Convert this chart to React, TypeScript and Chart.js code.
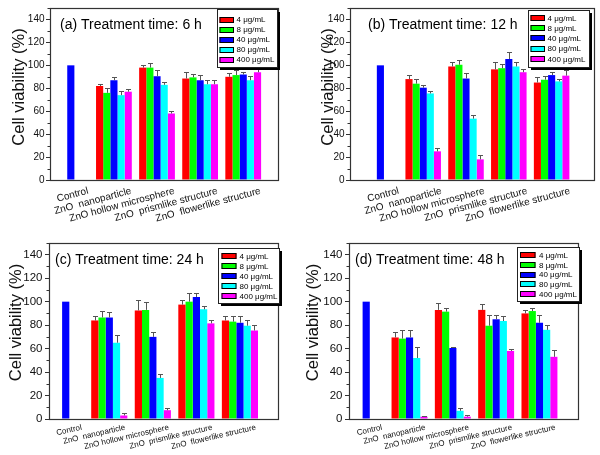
import React, { useEffect, useRef } from "react";
import { Chart, registerables } from "chart.js";

Chart.register(...registerables);

const FONT = "'Liberation Sans', Arial, Helvetica, sans-serif";

// ---------------- data ----------------
const categories = [
  "Control",
  "ZnO  nanoparticle",
  "ZnO hollow microsphere",
  "ZnO  prismlike structure",
  "ZnO  flowerlike structure",
];
const concentrations = ["4 μg/mL", "8 μg/mL", "40 μg/mL", "80 μg/mL", "400 μg/mL"];
const barColors = ["#ff0000", "#00ff00", "#0000ff", "#00ffff", "#ff00ff"];
const yTicks = [0, 20, 40, 60, 80, 100, 120, 140];
const controlValue = 100;
const panelTitles = [
  "(a) Treatment time: 6 h",
  "(b) Treatment time: 12 h",
  "(c) Treatment time: 24 h",
  "(d) Treatment time: 48 h",
];

// rows = concentrations (4, 8, 40, 80, 400 μg/mL)
// cols = nanoparticle, hollow microsphere, prismlike, flowerlike
const viability6h = [
  [82, 98, 88.5, 90],
  [76, 98, 89.5, 91.5],
  [87, 90.5, 87, 92],
  [74, 83, 83.5, 87],
  [77, 58, 83.5, 94],
];
const error6h = [
  [2, 2.5, 6, 3.5],
  [4, 4, 3, 4.5],
  [3, 5, 4.5, 2.5],
  [4, 2.5, 4, 3.5],
  [2, 2, 4, 3],
];
const viability12h = [
  [88, 99, 96.5, 85],
  [84, 100.5, 97.5, 87.5],
  [80.5, 88.5, 105.5, 91.5],
  [75.5, 53.5, 99, 86],
  [25, 18, 94, 91],
];
const error12h = [
  [3.5, 4, 6, 4.5],
  [4, 4.5, 4, 3],
  [2.5, 4.5, 6.5, 3],
  [2.5, 3.5, 4, 2.5],
  [2.5, 3.5, 2.5, 4.5],
];
const viability24h = [
  [84, 92.5, 97.5, 84],
  [86.5, 93, 100, 83],
  [86.5, 70, 104, 82],
  [65, 35, 93.5, 79.5],
  [3, 7.5, 81.5, 75.5],
];
const error24h = [
  [4, 8.5, 4, 4],
  [5.5, 7, 7.5, 4.5],
  [5, 4.5, 3.5, 6],
  [7, 3.5, 3, 4.5],
  [2, 2, 2.5, 5],
];
const viability48h = [
  [69.5, 93, 93, 90],
  [68.5, 91.5, 79.5, 92],
  [69.5, 60.5, 85, 82],
  [52, 7, 83.5, 76],
  [2, 2, 58, 53],
];
const error48h = [
  [5, 5.5, 5, 3],
  [7.5, 3, 9.5, 2.5],
  [6.5, 1, 3.5, 7],
  [9.5, 2.5, 4.5, 4],
  [0.5, 1, 1.5, 6],
];

const panelValues = [viability6h, viability12h, viability24h, viability48h];
const panelErrors = [error6h, error12h, error24h, error48h];

// ---------------- layout (positions / sizes / styles) ----------------
type Legend = { x: number; y: number; w: number; h: number; row0: number; rowH: number; swX: number; swW: number; textX: number };
type Layout = {
  left: number; top: number; w: number; h: number;
  l: number; r: number; t: number; b: number;
  xMin: number; xMax: number;
  tickFont: number; tickPad: number;
  labelFont: number; labelAngle: number; labelDx: number; labelDy: number;
  yTitleX: number; yTitleY: number;
  titleX: number; titleY: number;
  legend: Legend;
};

const layouts: Layout[] = [
  {
    left: 0, top: 0, w: 300, h: 225, l: 50, r: 278, t: 8, b: 180,
    xMin: -0.483, xMax: 4.807, tickFont: 10, tickPad: 1.5,
    labelFont: 10, labelAngle: 15, labelDx: 16, labelDy: 6,
    yTitleX: 19, yTitleY: 87, titleX: 60, titleY: 25,
    legend: { x: 217, y: 9, w: 60, h: 58, row0: 10.5, rowH: 10, swX: 2.5, swW: 14.5, textX: 19.5 },
  },
  {
    left: 300, top: 0, w: 300, h: 225, l: 50, r: 294, t: 8, b: 180,
    xMin: -0.71, xMax: 4.99, tickFont: 10, tickPad: 1.5,
    labelFont: 10, labelAngle: 15, labelDx: 17, labelDy: 6,
    yTitleX: 28, yTitleY: 87, titleX: 68, titleY: 25,
    legend: { x: 228, y: 10, w: 61, h: 57, row0: 8, rowH: 10.2, swX: 2.5, swW: 14.5, textX: 19.5 },
  },
  {
    left: 0, top: 225, w: 300, h: 230, l: 49, r: 278, t: 18, b: 194,
    xMin: -0.384, xMax: 4.874, tickFont: 11.5, tickPad: 2.5,
    labelFont: 8, labelAngle: 13, labelDx: 15, labelDy: 4.5,
    yTitleX: 16, yTitleY: 97.5, titleX: 55, titleY: 35,
    legend: { x: 218, y: 23, w: 61, h: 55, row0: 8, rowH: 10, swX: 3.5, swW: 15, textX: 21.5 },
  },
  {
    left: 300, top: 225, w: 300, h: 230, l: 49, r: 278, t: 18, b: 194,
    xMin: -0.397, xMax: 4.89, tickFont: 11.5, tickPad: 2.5,
    labelFont: 8, labelAngle: 13, labelDx: 15, labelDy: 4.5,
    yTitleX: 13.5, yTitleY: 97.5, titleX: 55, titleY: 35,
    legend: { x: 217, y: 22, w: 62, h: 54, row0: 8, rowH: 9.8, swX: 3, swW: 15.5, textX: 22 },
  },
];

function buildDatasets(values: number[][], errors: number[][]) {
  return concentrations.map((label, k) => {
    const pts: any[] = values[k].map((v, j) => ({ x: j + 1, y: v, err: errors[k][j] }));
    if (k === 2) pts.unshift({ x: 0, y: controlValue, err: 0 });
    return {
      label,
      data: pts,
      backgroundColor: barColors[k],
      borderWidth: 0,
      categoryPercentage: 0.83,
      barPercentage: 1,
    };
  });
}

function makeDecor(L: Layout, title: string) {
  return {
    id: "decor",
    afterDatasetsDraw(chart: any) {
      const ctx: CanvasRenderingContext2D = chart.ctx;
      const { left, right, top, bottom } = chart.chartArea;
      const xs = chart.scales.x;
      const ys = chart.scales.y;
      ctx.save();

      // error bars
      ctx.strokeStyle = "#555";
      ctx.lineWidth = 1;
      chart.data.datasets.forEach((ds: any, di: number) => {
        const meta = chart.getDatasetMeta(di);
        meta.data.forEach((bar: any, j: number) => {
          const p = ds.data[j];
          if (!p || !p.err) return;
          const yTop = Math.round(ys.getPixelForValue(p.y + p.err)) + 0.5;
          const x = Math.round(bar.x) + 0.5;
          ctx.beginPath();
          ctx.moveTo(x, bar.y);
          ctx.lineTo(x, yTop);
          ctx.moveTo(x - 2.5, yTop);
          ctx.lineTo(x + 2.5, yTop);
          ctx.stroke();
        });
      });

      // frame
      ctx.strokeStyle = "#333";
      ctx.lineWidth = 1.2;
      ctx.strokeRect(left + 0.5, top + 0.5, right - left, bottom - top);

      // minor ticks on y
      ctx.lineWidth = 1;
      ctx.beginPath();
      for (let v = 10; v <= 150; v += 20) {
        const y = Math.round(ys.getPixelForValue(v)) + 0.5;
        ctx.moveTo(left - 2.5, y);
        ctx.lineTo(left, y);
      }
      ctx.stroke();

      // x category labels
      ctx.fillStyle = "#111";
      ctx.font = `${L.labelFont}px ${FONT}`;
      ctx.textAlign = "right";
      ctx.textBaseline = "top";
      categories.forEach((lab, i) => {
        const x = xs.getPixelForValue(i) + L.labelDx;
        ctx.save();
        ctx.translate(x, bottom + L.labelDy);
        ctx.rotate((-L.labelAngle * Math.PI) / 180);
        ctx.fillText(lab, 0, 0);
        ctx.restore();
      });

      // y title
      ctx.save();
      ctx.font = `16.5px ${FONT}`;
      ctx.textAlign = "center";
      ctx.textBaseline = "middle";
      ctx.translate(L.yTitleX, L.yTitleY);
      ctx.rotate(-Math.PI / 2);
      ctx.fillText("Cell viability (%)", 0, 0);
      ctx.restore();

      // panel title
      ctx.font = `14px ${FONT}`;
      ctx.textAlign = "left";
      ctx.textBaseline = "middle";
      ctx.fillStyle = "#000";
      ctx.fillText(title, L.titleX, L.titleY);

      // legend
      const g = L.legend;
      ctx.fillStyle = "#000";
      ctx.fillRect(g.x + 3, g.y + 3, g.w, g.h);
      ctx.fillStyle = "#fff";
      ctx.fillRect(g.x, g.y, g.w, g.h);
      ctx.strokeStyle = "#222";
      ctx.lineWidth = 1;
      ctx.strokeRect(g.x + 0.5, g.y + 0.5, g.w, g.h);
      ctx.font = `8px ${FONT}`;
      ctx.textBaseline = "middle";
      ctx.textAlign = "left";
      concentrations.forEach((lab, i) => {
        const cy = g.y + g.row0 + i * g.rowH;
        ctx.fillStyle = barColors[i];
        ctx.fillRect(g.x + g.swX, Math.round(cy - 3), g.swW, 6);
        ctx.strokeStyle = "#000";
        ctx.strokeRect(g.x + g.swX + 0.5, Math.round(cy - 3) + 0.5, g.swW - 1, 5);
        ctx.fillStyle = "#000";
        ctx.fillText(lab, g.x + g.textX, cy + 0.5);
      });

      ctx.restore();
    },
  };
}

function Panel({ index }: { index: number }) {
  const ref = useRef<HTMLCanvasElement | null>(null);
  const L = layouts[index];
  useEffect(() => {
    if (!ref.current) return;
    const chart = new Chart(ref.current, {
      type: "bar",
      data: { datasets: buildDatasets(panelValues[index], panelErrors[index]) as any },
      options: {
        animation: false,
        responsive: false,
        events: [],
        layout: { padding: { left: 0, top: L.t, right: L.w - L.r, bottom: 0 } },
        plugins: { legend: { display: false }, tooltip: { enabled: false }, title: { display: false } },
        scales: {
          x: {
            type: "linear",
            offset: false,
            min: L.xMin,
            max: L.xMax,
            grid: { display: false, offset: false },
            border: { display: false },
            ticks: { display: false },
            afterBuildTicks: (ax: any) => {
              ax.ticks = categories.map((_, i) => ({ value: i }));
            },
            afterFit: (ax: any) => {
              ax.height = L.h - L.b;
            },
          },
          y: {
            min: 0,
            max: 150,
            afterBuildTicks: (ax: any) => {
              ax.ticks = yTicks.map((v) => ({ value: v }));
            },
            ticks: { font: { size: L.tickFont, family: FONT }, color: "#111", padding: L.tickPad },
            grid: { drawOnChartArea: false, drawTicks: true, tickLength: 4, color: "#333", tickColor: "#333" },
            border: { display: false },
            afterFit: (ax: any) => {
              ax.width = L.l;
            },
          },
        },
      } as any,
      plugins: [makeDecor(L, panelTitles[index]) as any],
    });
    return () => chart.destroy();
  }, [index]);
  return (
    <div style={{ position: "absolute", left: L.left, top: L.top, width: L.w, height: L.h }}>
      <canvas ref={ref} width={L.w} height={L.h} style={{ width: L.w, height: L.h, display: "block" }} />
    </div>
  );
}

export default function App() {
  return (
    <div style={{ position: "absolute", left: 0, top: 0, width: 600, height: 455, background: "#fff" }}>
      {layouts.map((_, i) => (
        <Panel key={i} index={i} />
      ))}
    </div>
  );
}
